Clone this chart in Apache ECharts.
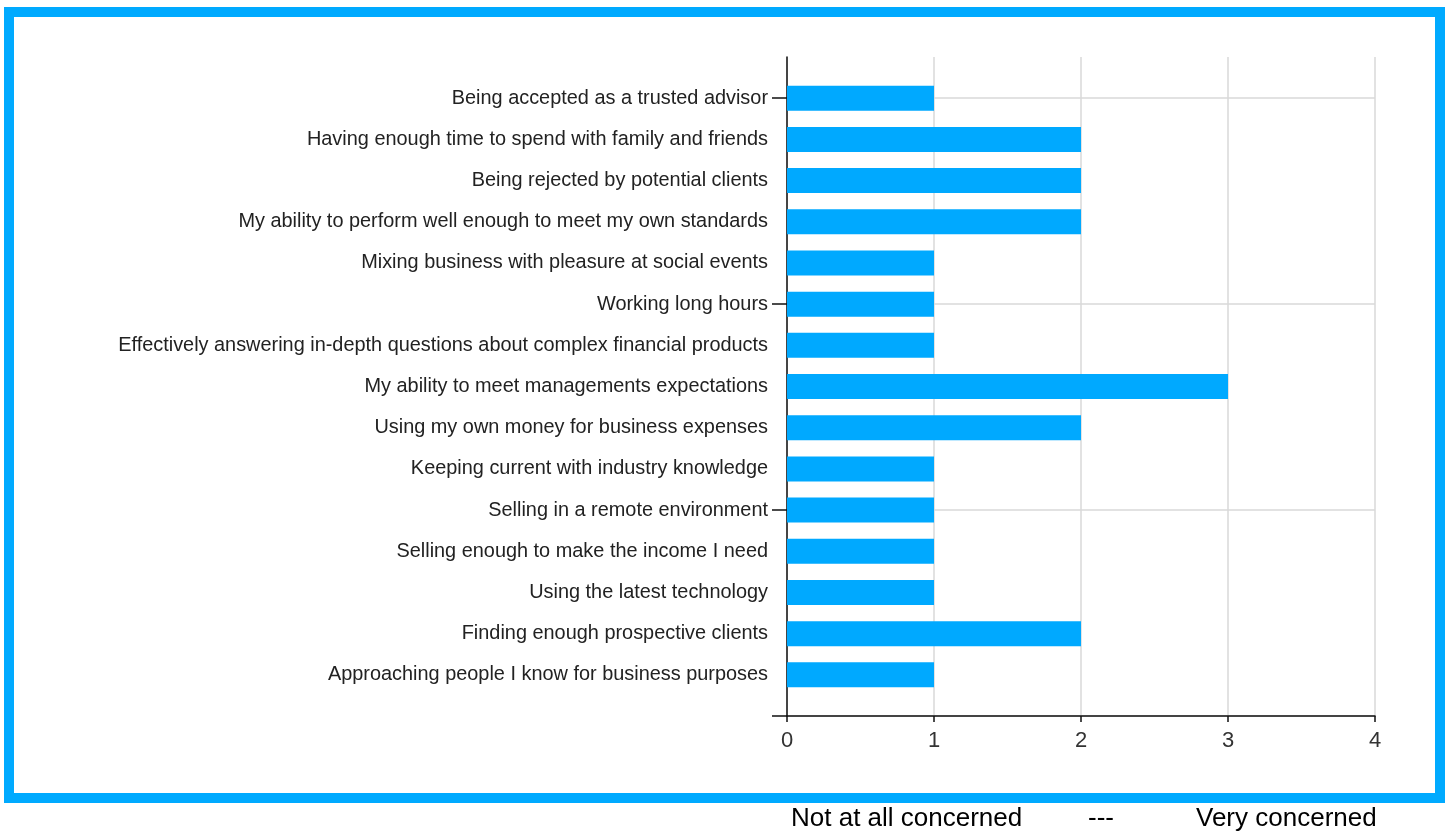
<!DOCTYPE html>
<html>
<head>
<meta charset="utf-8">
<script src="https://cdn.jsdelivr.net/npm/echarts@6/dist/echarts.min.js"></script>
<style>
html,body{margin:0;padding:0;background:#fff;}
#chart{width:1445px;height:831px;}
</style>
</head>
<body>
<div id="chart"></div>
<script>
// Categories, top to bottom as shown
const categories = [
  "Being accepted as a trusted advisor",
  "Having enough time to spend with family and friends",
  "Being rejected by potential clients",
  "My ability to perform well enough to meet my own standards",
  "Mixing business with pleasure at social events",
  "Working long hours",
  "Effectively answering in-depth questions about complex financial products",
  "My ability to meet managements expectations",
  "Using my own money for business expenses",
  "Keeping current with industry knowledge",
  "Selling in a remote environment",
  "Selling enough to make the income I need",
  "Using the latest technology",
  "Finding enough prospective clients",
  "Approaching people I know for business purposes"
];
const values = [1, 2, 2, 2, 1, 1, 1, 3, 2, 1, 1, 1, 1, 2, 1];
const xTicks = [0, 1, 2, 3, 4];
const footerLeft = "Not at all concerned";
const footerMid = "---";
const footerRight = "Very concerned";

// Padded axis (empty slot above and below, as in the original plot)
const axisCats = [""].concat(categories, [""]);
const axisVals = [null].concat(values, [null]);

const chart = echarts.init(document.getElementById('chart'), null, {renderer: 'canvas'});
const tickFn = function (idx) { return (idx - 1) % 5 === 0; };
chart.setOption({
  animation: false,
  backgroundColor: '#fff',
  grid: {left: 787, right: 70, top: 57, bottom: 115, containLabel: false},
  xAxis: {
    type: 'value',
    min: xTicks[0],
    max: xTicks[xTicks.length - 1],
    interval: 1,
    axisLine: {show: true, lineStyle: {color: '#111', width: 1.5}},
    axisTick: {show: true, length: 6, lineStyle: {color: '#111', width: 1.5}},
    axisLabel: {fontSize: 22, color: '#333', margin: 14, fontFamily: 'Liberation Sans'},
    splitLine: {show: true, lineStyle: {color: '#d9d9d9', width: 1.5}}
  },
  yAxis: {
    type: 'category',
    inverse: true,
    boundaryGap: false,
    data: axisCats,
    axisLine: {show: true, lineStyle: {color: '#111', width: 1.5}},
    axisTick: {show: true, interval: tickFn, length: 15, lineStyle: {color: '#111', width: 1.5}},
    axisLabel: {interval: 0, fontSize: 19.9, color: '#222', margin: 19, padding: [3, 0, 0, 0], fontFamily: 'Liberation Sans'},
    splitLine: {show: true, interval: tickFn, lineStyle: {color: '#d9d9d9', width: 1.5}}
  },
  series: [{
    type: 'bar',
    data: axisVals,
    barWidth: 25,
    itemStyle: {color: '#00A9FF'}
  }],
  graphic: [
    {type: 'rect', shape: {x: 9, y: 12, width: 1431, height: 786},
     style: {fill: 'none', stroke: '#00AAFF', lineWidth: 10}},
    {type: 'text', left: 791, top: 806,
     style: {text: footerLeft, fontSize: 26, fill: '#000', fontFamily: 'Liberation Sans'}},
    {type: 'text', left: 1088, top: 806,
     style: {text: footerMid, fontSize: 26, fill: '#000', fontFamily: 'Liberation Sans'}},
    {type: 'text', left: 1196, top: 806,
     style: {text: footerRight, fontSize: 26, fill: '#000', fontFamily: 'Liberation Sans'}}
  ]
});
</script>
</body>
</html>
